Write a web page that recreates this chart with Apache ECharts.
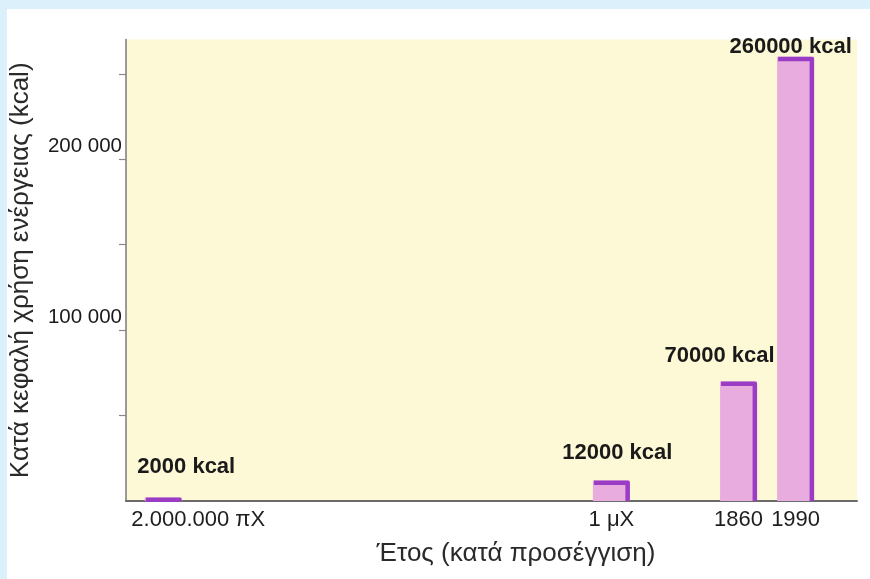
<!DOCTYPE html>
<html>
<head>
<meta charset="utf-8">
<script src="https://cdn.jsdelivr.net/npm/echarts@6/dist/echarts.min.js"></script>
<style>
  html, body { margin: 0; padding: 0; width: 870px; height: 579px; background: #dcf0fb; overflow: hidden; }
  #chart { position: absolute; left: 7px; top: 9px; width: 863px; height: 570px; background: #ffffff; }
</style>
</head>
<body>
<div id="chart"></div>
<script>
// Per-capita energy use through history
const periods = ['2.000.000 πX', '1 μX', '1860', '1990'];
const energyKcal = [2000, 12000, 70000, 260000];
// where each period sits along the (non-linear) time line, 0..100
const timelinePos = [5.1, 66.4, 83.8, 91.6];
const yTickValues = [50000, 100000, 150000, 200000, 250000];
const yLabelValues = [100000, 200000];

const FONT = '"Liberation Sans", Arial, Helvetica, sans-serif';
const EDGE = '#9a3dc4';
const FILL = '#e8acdf';
// small shifts of the value captions relative to the bar top
const captionShift = [[23, -31], [6, -28], [-19, -25], [-5, -10]];

const chart = echarts.init(document.getElementById('chart'), null, { renderer: 'canvas' });

const fmtThousands = v => String(v).replace(/\B(?=(\d{3})+(?!\d))/g, ' ');

chart.setOption({
  animation: false,
  backgroundColor: 'transparent',
  grid: {
    left: 119, top: 30.6, right: 13, bottom: 78,
    outerBoundsMode: 'none',
    containLabel: false,
    show: true, backgroundColor: '#fdf8d6', borderWidth: 0
  },
  xAxis: {
    type: 'value', min: 0, max: 100,
    name: 'Έτος (κατά προσέγγιση)',
    nameLocation: 'middle', nameGap: 40,
    nameTextStyle: { fontFamily: FONT, fontSize: 26, color: '#2a2a2a', padding: [0, 0, 0, 49] },
    axisLine: { show: true, onZero: false, lineStyle: { color: '#6b6b6b', width: 2 } },
    axisTick: { show: false },
    splitLine: { show: false },
    axisLabel: {
      customValues: timelinePos,
      margin: 8,
      fontFamily: FONT, fontSize: 22, color: '#1e1e1e',
      formatter: v => {
        const i = timelinePos.indexOf(v);
        if (i < 0) return '';
        return i === 0 ? '{first|' + periods[i] + '}' : periods[i];
      },
      rich: {
        first: { fontFamily: FONT, fontSize: 22, color: '#1e1e1e', padding: [0, 0, 0, 70] }
      }
    }
  },
  yAxis: {
    type: 'value', min: 0, max: 270000,
    name: 'Κατά κεφαλή χρήση ενέργειας (kcal)',
    nameLocation: 'middle', nameGap: 92,
    nameTextStyle: { fontFamily: FONT, fontSize: 26, color: '#2a2a2a' },
    axisLine: { show: true, lineStyle: { color: '#7a7a7a', width: 1.5 } },
    axisTick: { show: true, customValues: yTickValues, length: 7, lineStyle: { color: '#888', width: 1.2 } },
    splitLine: { show: false },
    axisLabel: {
      customValues: yLabelValues,
      margin: 4,
      fontFamily: FONT, fontSize: 20.5, color: '#1a1a1a',
      verticalAlign: 'bottom', padding: [0, 0, 2, 0],
      formatter: v => fmtThousands(v)
    }
  },
  series: [{
    type: 'custom',
    clip: false,
    data: energyKcal.map((v, i) => [timelinePos[i], v]),
    renderItem: (params, api) => {
      const i = params.dataIndex;
      const x = api.value(0);
      const v = api.value(1);
      const top = api.coord([x, v]);
      const base = api.coord([x, 0]);
      const w = 37;
      const l = top[0] - w / 2;
      const r = top[0] + w / 2;
      const lw = 4.5;
      return {
        type: 'group',
        children: [
          {
            type: 'rect',
            shape: { x: l, y: top[1], width: w, height: base[1] - top[1] },
            style: { fill: FILL }
          },
          {
            type: 'polyline',
            shape: { points: [[l + 1, top[1] + lw / 2], [r - lw / 2, top[1] + lw / 2], [r - lw / 2, base[1]]] },
            style: { stroke: EDGE, lineWidth: lw, fill: null, lineJoin: 'round' }
          },
          {
            type: 'text',
            x: top[0] + captionShift[i][0],
            y: top[1] + captionShift[i][1],
            style: {
              text: energyKcal[i] + ' kcal',
              fontFamily: FONT, fontSize: 22, fontWeight: 'bold', fill: '#1a1a1a',
              align: 'center', verticalAlign: 'middle'
            }
          }
        ]
      };
    }
  }]
});
</script>
</body>
</html>
